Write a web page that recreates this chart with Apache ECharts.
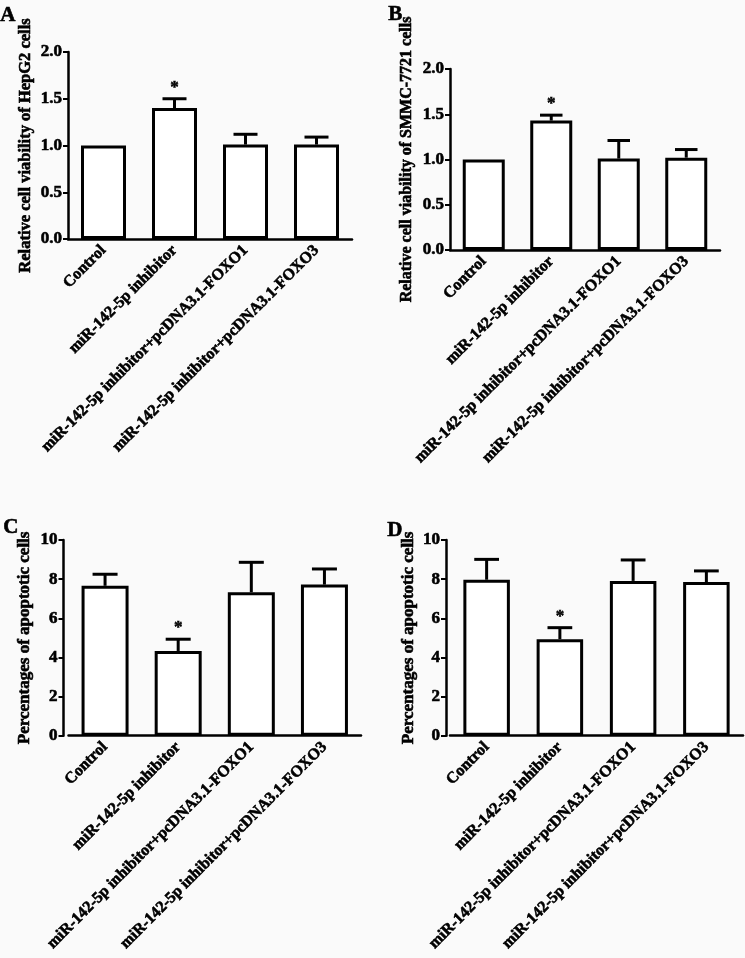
<!DOCTYPE html>
<html>
<head>
<meta charset="utf-8">
<script src="https://cdn.jsdelivr.net/npm/echarts@6/dist/echarts.min.js"></script>
<style>
html,body{margin:0;padding:0;background:#fafafa;}
#chart{width:745px;height:958px;}
</style>
</head>
<body>
<div id="chart"></div>
<script>
// ---- Data ----
const categories = [
  'Control',
  'miR-142-5p inhibitor',
  'miR-142-5p inhibitor+pcDNA3.1-FOXO1',
  'miR-142-5p inhibitor+pcDNA3.1-FOXO3'
];
const significance = ['', '*', '', ''];

const viabilityHepG2 = [1.00, 1.40, 1.01, 1.01];
const viabilityHepG2Err = [0, 0.10, 0.11, 0.08];

const viabilitySMMC = [1.00, 1.43, 1.01, 1.02];
const viabilitySMMCErr = [0, 0.06, 0.20, 0.09];

const apoptosisHepG2 = [7.66, 4.33, 7.33, 7.72];
const apoptosisHepG2Err = [0.59, 0.60, 1.53, 0.80];

const apoptosisSMMC = [7.97, 4.93, 7.91, 7.85];
const apoptosisSMMCErr = [1.04, 0.59, 1.07, 0.57];

const viabilityTicks = [0, 0.5, 1.0, 1.5, 2.0];
const apoptosisTicks = [0, 2, 4, 6, 8, 10];

const panels = [
  {letter:'A', title:'Relative cell viability of HepG2 cells', values:viabilityHepG2, errs:viabilityHepG2Err, ticks:viabilityTicks, dec:1,
   grid:{left:68, right:393, top:52, height:187}, yOffset:0, barWidth:45, nameGap:34, nameSize:16.5, letterPos:[0,5]},
  {letter:'B', title:'Relative cell viability of SMMC-7721 cells', values:viabilitySMMC, errs:viabilitySMMCErr, ticks:viabilityTicks, dec:1,
   grid:{left:450, right:25, top:69, height:181}, yOffset:0, barWidth:42, nameGap:35, nameSize:16, letterPos:[388,4]},
  {letter:'C', title:'Percentages of apoptotic cells', values:apoptosisHepG2, errs:apoptosisHepG2Err, ticks:apoptosisTicks, dec:0,
   grid:{left:68.5, right:384, top:540, height:195.7}, yOffset:5, barWidth:47, nameGap:30, nameSize:17, letterPos:[3,517]},
  {letter:'D', title:'Percentages of apoptotic cells', values:apoptosisSMMC, errs:apoptosisSMMCErr, ticks:apoptosisTicks, dec:0,
   grid:{left:450, right:2, top:540, height:195.7}, yOffset:4, barWidth:46.5, nameGap:29, nameSize:17, letterPos:[387,520]}
];

const FONT = '"Liberation Serif","Times New Roman",serif';
const BLACK = '#000';
const THICK = {textBorderColor:BLACK, textBorderWidth:0.6};

const grids = [], xAxes = [], yAxes = [], series = [], graphics = [];

panels.forEach((p, i) => {
  grids.push(Object.assign({containLabel:false}, p.grid));
  xAxes.push({
    type:'category', gridIndex:i, data:categories,
    axisLine:{lineStyle:{color:BLACK, width:2.5}},
    axisTick:{alignWithLabel:true, length:5, lineStyle:{color:BLACK, width:2}},
    axisLabel:Object.assign({rotate:45, margin:9, color:BLACK, fontFamily:FONT, fontWeight:'bold', fontSize:16, interval:0}, THICK)
  });
  const tmin = p.ticks[0], tmax = p.ticks[p.ticks.length-1];
  yAxes.push({
    type:'value', gridIndex:i, min:tmin, max:tmax, interval:p.ticks[1]-p.ticks[0], offset:p.yOffset,
    name:p.title, nameLocation:'middle', nameGap:p.nameGap,
    nameTextStyle:Object.assign({color:BLACK, fontFamily:FONT, fontWeight:'bold', fontSize:p.nameSize}, THICK),
    axisLine:{show:true, lineStyle:{color:BLACK, width:2.5}},
    axisTick:{show:true, length:5, lineStyle:{color:BLACK, width:2}},
    splitLine:{show:false},
    axisLabel:Object.assign({margin:6, color:BLACK, fontFamily:FONT, fontWeight:'bold', fontSize:17,
      formatter:(v)=>v.toFixed(p.dec)}, THICK)
  });
  series.push({
    type:'bar', xAxisIndex:i, yAxisIndex:i, data:p.values, barWidth:p.barWidth,
    itemStyle:{color:'#fff', borderColor:BLACK, borderWidth:3},
    silent:true, animation:false
  });
  const capHalf = (p.barWidth+3)/4;
  series.push({
    type:'custom', xAxisIndex:i, yAxisIndex:i, z:5, animation:false, silent:true, clip:false,
    data:p.values.map((v,k)=>[k, v, p.errs[k], significance[k]]),
    renderItem:(params, api) => {
      const k = api.value(0), v = api.value(1), e = api.value(2);
      const base = api.coord([k, v]);
      const top = api.coord([k, v + e]);
      const children = [];
      if (e > 0) {
        children.push({type:'line', shape:{x1:base[0], y1:base[1], x2:top[0], y2:top[1]}, style:{stroke:BLACK, lineWidth:3}});
        children.push({type:'line', shape:{x1:top[0]-capHalf, y1:top[1], x2:top[0]+capHalf, y2:top[1]}, style:{stroke:BLACK, lineWidth:3}});
      }
      const sig = significance[k];
      if (sig) {
        children.push({type:'text', style:{text:sig, x:top[0], y:top[1]-3, align:'center', verticalAlign:'bottom',
          font:'bold 17px ' + FONT, fill:BLACK, stroke:BLACK, lineWidth:0.5}});
      }
      return {type:'group', children};
    }
  });
  graphics.push({type:'text', left:p.letterPos[0], top:p.letterPos[1],
    style:{text:p.letter, font:'bold 21px ' + FONT, fill:BLACK, stroke:BLACK, lineWidth:0.6}});
});

const chart = echarts.init(document.getElementById('chart'), null, {renderer:'canvas'});
chart.setOption({
  backgroundColor:'#fafafa',
  animation:false,
  grid:grids, xAxis:xAxes, yAxis:yAxes, series:series, graphic:graphics
});
</script>
</body>
</html>
